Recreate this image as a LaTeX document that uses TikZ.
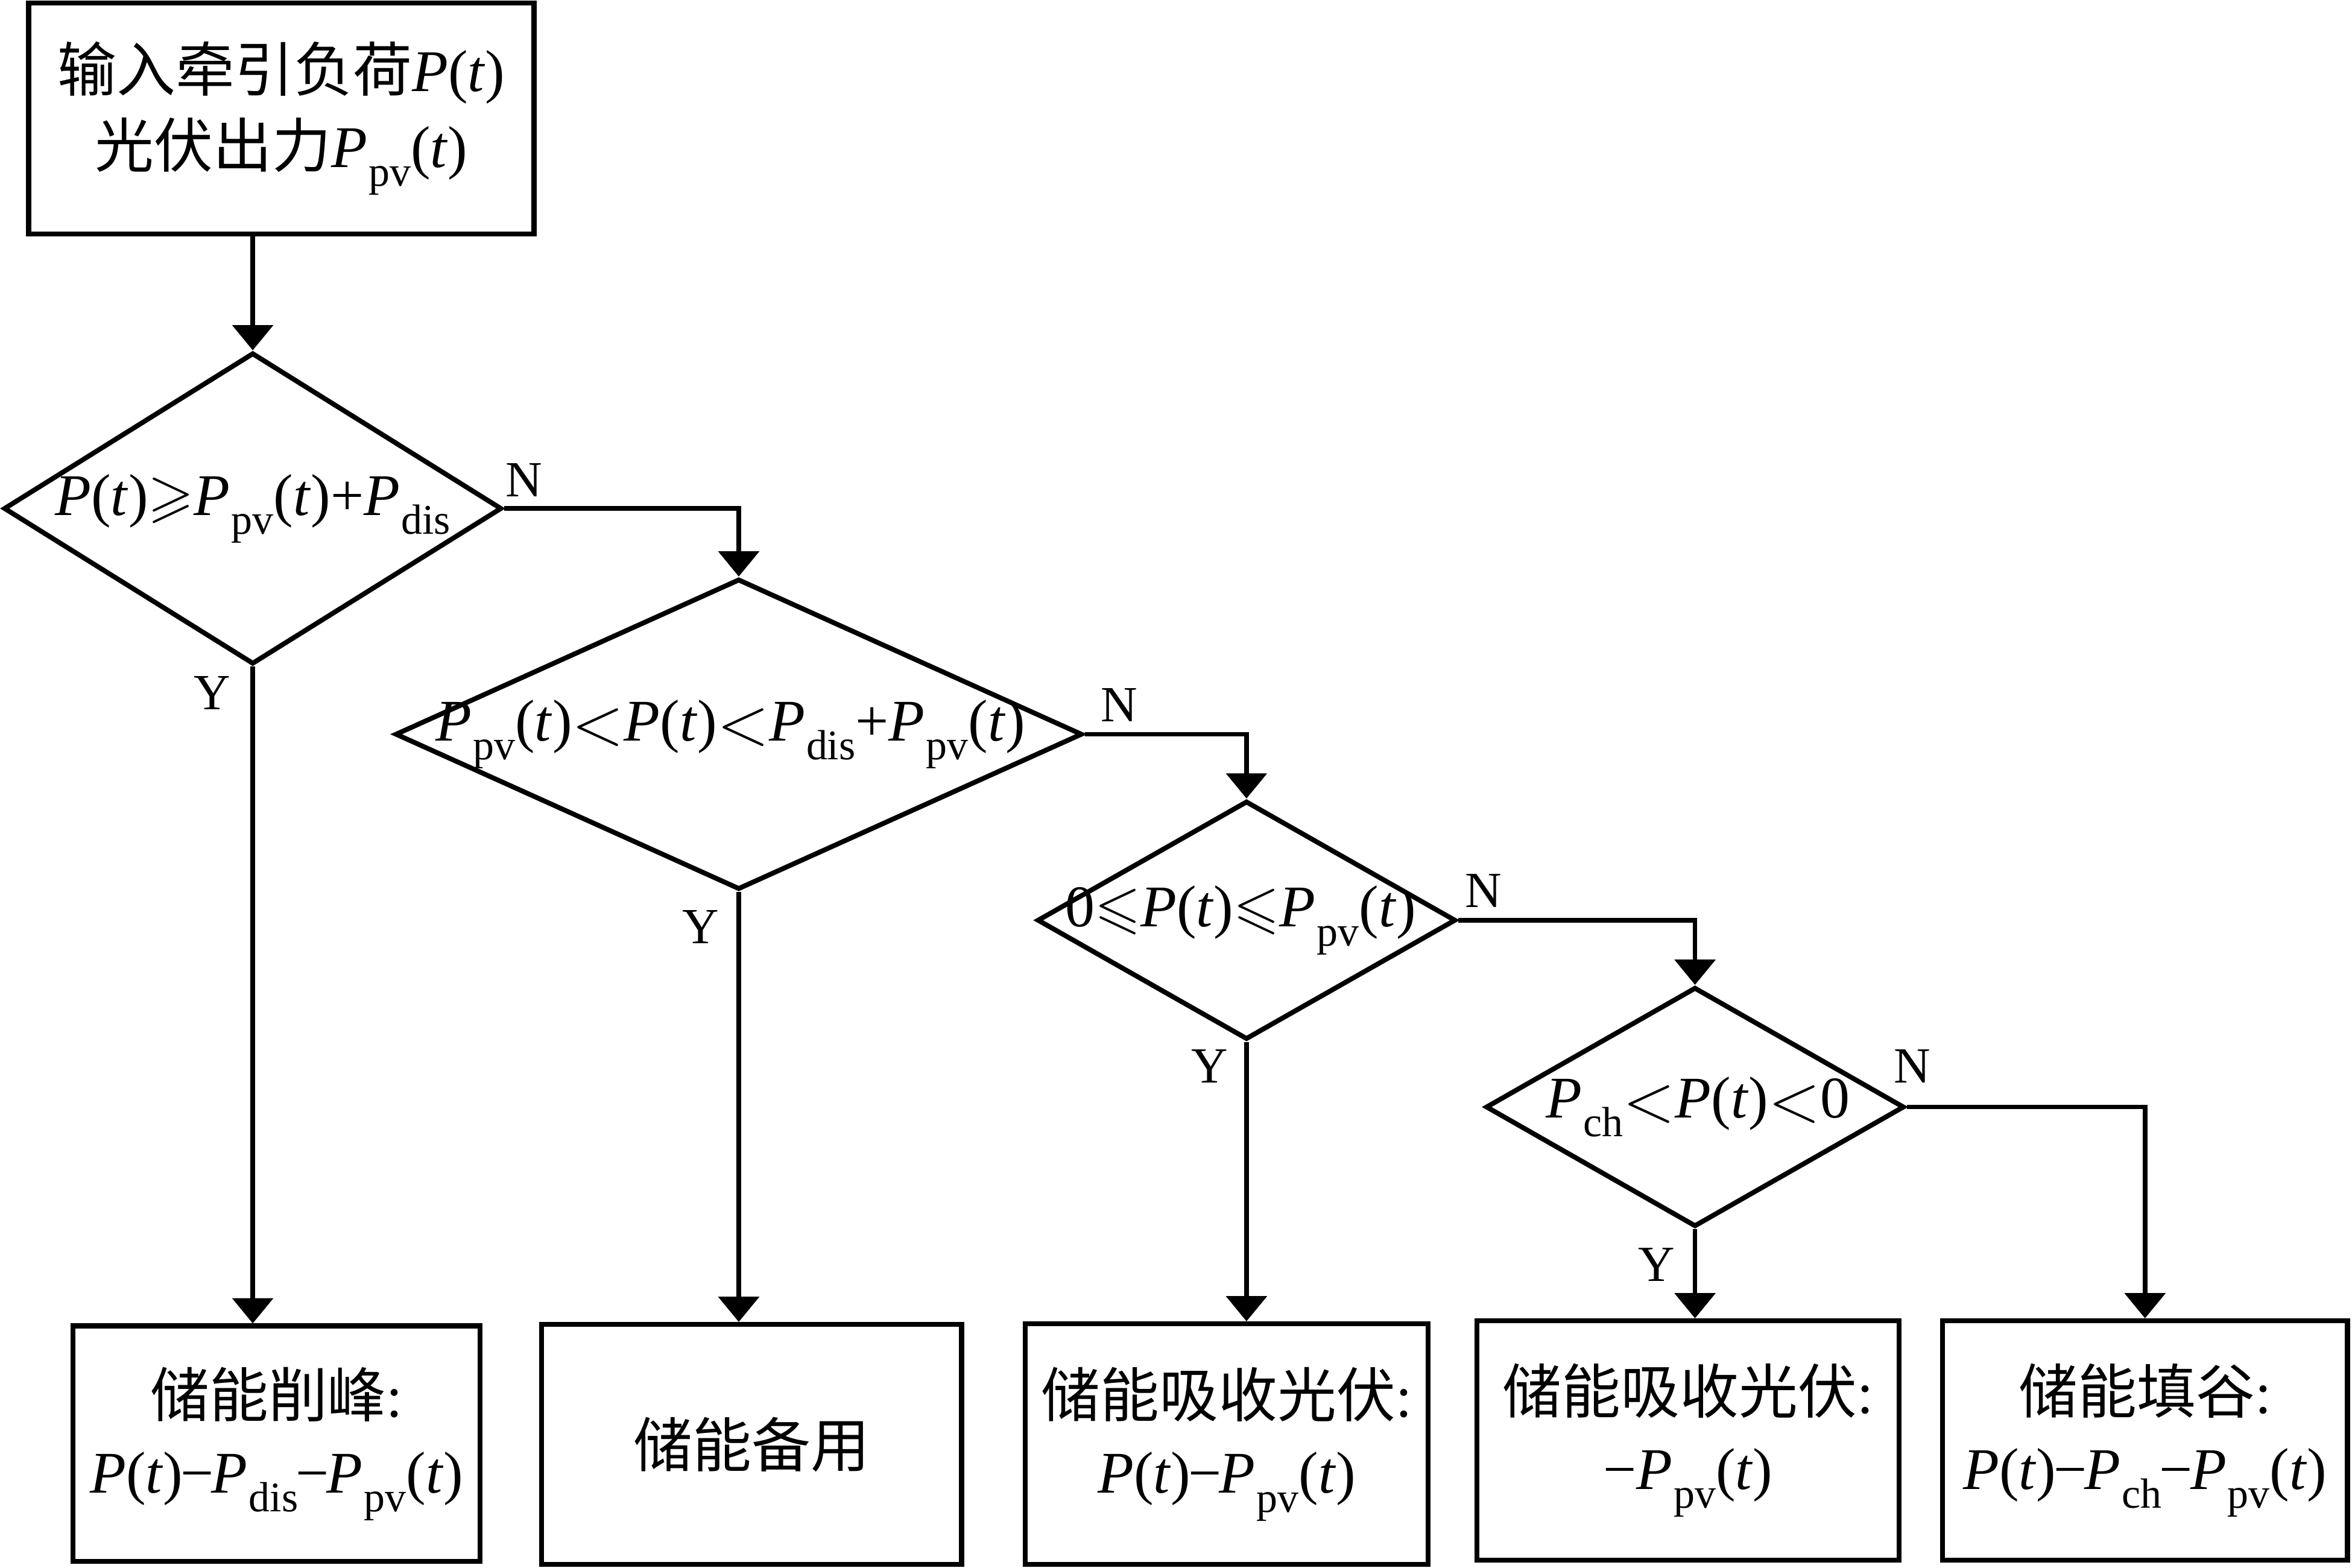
\documentclass[tikz,border=0pt]{standalone}
\usepackage{fontspec}
\usepackage{amssymb}
\setmainfont{Liberation Serif}
\newfontfamily\cjk{Noto Sans CJK SC}
\usetikzlibrary{shapes.geometric,arrows.meta}
\newcommand{\mysub}[1]{\raisebox{-0.32em}{\fontsize{20}{20}\selectfont #1}}
\newcommand{\myP}[1]{\textit{P}\kern0.02em\mysub{#1}}
\newcommand{\myT}{(\textit{t})}
\newcommand{\mylt}{\raisebox{-0.06em}{\scalebox{1.3}{$<$}}}
\newcommand{\mymin}{\kern-0.04em−\kern-0.04em}
\begin{document}
\begin{tikzpicture}[x=0.025cm,y=-0.025cm,
  procbox/.style={draw, line width=2.4pt, rectangle, inner sep=0pt, align=center, font=\fontsize{28}{36}\selectfont},
  decide/.style={draw, line width=2.3pt, diamond, inner sep=0pt, aspect=1},
  cond/.style={font=\fontsize{28}{36}\selectfont, inner sep=0pt},
  yn/.style={font=\fontsize{24}{24}\selectfont, inner sep=0pt},
  flow/.style={line width=2.2pt, -{Triangle[length=0.42cm,width=0.67cm]}}]
\fill[white] (0,0) rectangle (1568,1045.33);
\useasboundingbox (0,0) rectangle (1568,1045.33);

% start box
\node[procbox, minimum width=8.42cm, minimum height=3.85cm] (top) at (187.6,79)
  {{\cjk 输入牵引负荷}\textit{P}\myT\\{\cjk 光伏出力}\myP{pv}\myT};

% decisions
\node[decide, minimum width=8.3cm, minimum height=5.19cm] (d1) at (168.5,339) {};
\node[cond] (t1) at (168.5,339) {\textit{P}\myT$\geqslant$\myP{pv}\myT+\myP{dis}};

\node[decide, minimum width=11.45cm, minimum height=5.175cm] (d2) at (492.5,489.5) {};
\node[cond] (t2) at (487,489.5) {\myP{pv}\myT\mylt\textit{P}\myT\mylt\myP{dis}+\myP{pv}\myT};

\node[decide, minimum width=6.975cm, minimum height=3.975cm] (d3) at (831,613.5) {};
\node[cond] (t3) at (827,613.5) {0$\leqslant$\textit{P}\myT$\leqslant$\myP{pv}\myT};

\node[decide, minimum width=6.975cm, minimum height=3.99cm] (d4) at (1130,738) {};
\node[cond] (t4) at (1132,738) {\myP{ch}\mylt\textit{P}\myT\mylt0};

% result boxes
\node[procbox, minimum width=6.78cm, minimum height=3.925cm] (b1) at (184.4,962.5)
  {{\cjk 储能削峰}:\\\textit{P}\myT\mymin\myP{dis}\mymin\myP{pv}\myT};
\node[procbox, minimum width=7.0cm, minimum height=4.0cm] (b2) at (501,963)
  {{\cjk 储能备用}};
\node[procbox, minimum width=6.71cm, minimum height=4.01cm] (b3) at (817.8,962.8)
  {{\cjk 储能吸收光伏}:\\\textit{P}\myT\mymin\myP{pv}\myT};
\node[procbox, minimum width=7.03cm, minimum height=3.985cm] (b4) at (1125.3,960.3)
  {{\cjk 储能吸收光伏}:\\−\myP{pv}\myT};
\node[procbox, minimum width=6.75cm, minimum height=3.985cm] (b5) at (1430,960.3)
  {{\cjk 储能填谷}:\\\textit{P}\myT\mymin\myP{ch}\mymin\myP{pv}\myT};

% Y / N labels
\node[yn] (n1) at (349.5,320) {N};
\node[yn] (y1) at (141.5,462) {Y};
\node[yn] (n2) at (746,470) {N};
\node[yn] (y2) at (467,618) {Y};
\node[yn] (n3) at (989,594) {N};
\node[yn] (y3) at (806.5,711) {Y};
\node[yn] (n4) at (1274.7,711) {N};
\node[yn] (y4) at (1104.5,843) {Y};

% connectors
\draw[flow] (d1.north |- top.south) -- (d1.north);
\draw[flow] (d1.east) -| (d2.north);
\draw[flow] (d1.south) -- (d1.south |- b1.north);
\draw[flow] (d2.east) -| (d3.north);
\draw[flow] (d2.south) -- (d2.south |- b2.north);
\draw[flow] (d3.east) -| (d4.north);
\draw[flow] (d3.south) -- (d3.south |- b3.north);
\draw[flow] (d4.east) -| (b5.north);
\draw[flow] (d4.south) -- (d4.south |- b4.north);
\end{tikzpicture}
\end{document}
